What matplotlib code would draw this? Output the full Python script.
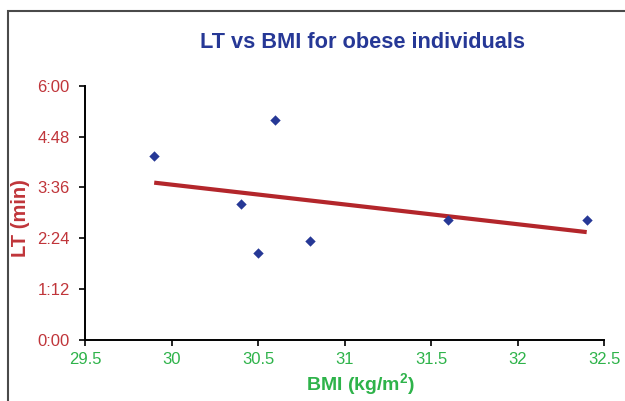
import numpy as np
import matplotlib
matplotlib.use("Agg")
import matplotlib.pyplot as plt
from matplotlib.patches import Rectangle
from matplotlib.ticker import FixedLocator, FuncFormatter

# BMI (kg/m^2) and LT (seconds) for each obese individual
bmi = [29.9, 30.6, 30.4, 30.5, 30.8, 31.6, 32.4]
lt_seconds = [260, 311, 192, 123, 140, 170, 170]

x_ticks = [29.5, 30, 30.5, 31, 31.5, 32, 32.5]
y_ticks = [0, 72, 144, 216, 288, 360]

title_text = "LT vs BMI for obese individuals"
x_label = "BMI (kg/m$^{2}$)"
y_label = "LT (min)"

BLUE = "#263896"
RED = "#c0353a"
LINE_RED = "#b3262b"
GREEN = "#2eb34a"

plt.rcParams["font.family"] = ["Liberation Sans", "DejaVu Sans"]
plt.rcParams["mathtext.fontset"] = "custom"
plt.rcParams["mathtext.rm"] = "Liberation Sans:bold"
plt.rcParams["mathtext.default"] = "rm"

fig = plt.figure(figsize=(6.25, 4.01), dpi=100)
ax_left, ax_right, ax_top, ax_bottom = 85, 604, 85.7, 340
ax = fig.add_axes([ax_left / 625, 1 - ax_bottom / 401,
                   (ax_right - ax_left) / 625, (ax_bottom - ax_top) / 401])

# outer frame around the chart area
fig.patches.append(Rectangle((8 / 625, -0.1), 1.2, 1.1 - 11 / 401,
                             transform=fig.transFigure, fill=False,
                             edgecolor="#4a4a4a", linewidth=1.5))

ax.scatter(bmi, lt_seconds, marker="D", s=28, color=BLUE, zorder=3, linewidths=0)

# linear trendline
slope, intercept = np.polyfit(bmi, lt_seconds, 1)
xs = np.array([min(bmi), max(bmi)])
ax.plot(xs, slope * xs + intercept, color=LINE_RED, linewidth=3, solid_capstyle="butt", zorder=2)

ax.set_xlim(29.5, 32.5)
ax.set_ylim(0, 360)
ax.xaxis.set_major_locator(FixedLocator(x_ticks))
ax.yaxis.set_major_locator(FixedLocator(y_ticks))
ax.xaxis.set_major_formatter(FuncFormatter(lambda v, p: f"{v:g}"))
ax.yaxis.set_major_formatter(FuncFormatter(lambda v, p: f"{int(v) // 60}:{int(v) % 60:02d}"))

for side in ("top", "right"):
    ax.spines[side].set_visible(False)
for side in ("left", "bottom"):
    ax.spines[side].set_linewidth(1.4)
    ax.spines[side].set_color("black")

ax.tick_params(axis="both", direction="out", length=4, width=1.2, color="black", labelsize=12)
ax.tick_params(axis="y", labelcolor=RED, pad=7)
ax.tick_params(axis="x", labelcolor=GREEN, pad=5)

w_px = ax_right - ax_left
h_px = ax_bottom - ax_top
ax.set_xlabel(x_label, fontsize=14, fontweight="bold", color=GREEN)
ax.xaxis.set_label_coords(0.5 + (360 - (ax_left + w_px / 2)) / w_px, -(384 - ax_bottom) / h_px)
ax.xaxis.label.set_va("center")
ax.set_ylabel(y_label, fontsize=14.5, fontweight="bold", color=RED)
ax.yaxis.set_label_coords(-(ax_left - 21) / w_px, 0.5 - (218 - (ax_top + h_px / 2)) / h_px)
ax.yaxis.label.set_va("center")

fig.text(363 / 625, 1 - 43 / 401, title_text, ha="center", va="center",
         fontsize=15.7, fontweight="bold", color=BLUE)

fig.savefig("out.png", dpi=100, facecolor="white")
